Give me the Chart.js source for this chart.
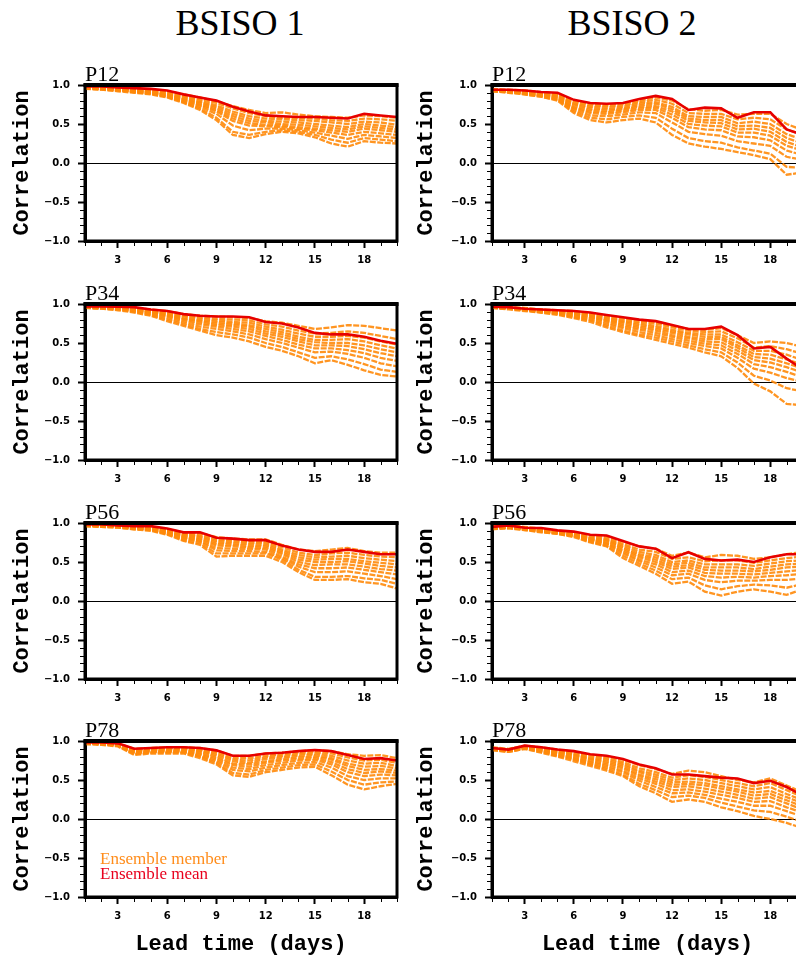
<!DOCTYPE html>
<html><head><meta charset="utf-8">
<script src="https://cdn.jsdelivr.net/npm/chart.js@4.4.0/dist/chart.umd.min.js"></script>
<style>
html,body{margin:0;padding:0;background:#fff;overflow:hidden;width:796px;height:960px;}
#wrap{position:relative;width:796px;height:960px;overflow:hidden;background:#fff;}
.title{position:absolute;top:5px;font-family:"Liberation Serif",serif;font-size:36px;line-height:36px;color:#000;width:300px;text-align:center;white-space:nowrap;}
canvas{position:absolute;}
.leg{position:absolute;font-family:"Liberation Serif",serif;font-size:17px;line-height:17px;white-space:nowrap;}
</style></head><body><div id="wrap">
<div class="title" style="left:90px">BSISO 1</div>
<div class="title" style="left:482px">BSISO 2</div>
</div>
<script>
// ---------------- DATA ----------------
const DAYS = [1,2,3,4,5,6,7,8,9,10,11,12,13,14,15,16,17,18,19,20];
const X_TICKS = [3,6,9,12,15,18];
const Y_TICKS = [-1,-0.5,0,0.5,1];
const COLUMN_TITLES = ["BSISO 1","BSISO 2"];
const PHASE_LABELS = ["P12","P34","P56","P78"];
const LEGEND_LABELS = ["Ensemble member","Ensemble mean"];

// BSISO 1, P12
const MEAN_B1_P12 = [0.98,0.98,0.97,0.96,0.95,0.93,0.88,0.84,0.80,0.72,0.66,0.61,0.60,0.59,0.59,0.58,0.57,0.63,0.61,0.59];
const MEMBERS_B1_P12 = [
 [0.98,0.97,0.96,0.95,0.94,0.92,0.88,0.84,0.79,0.73,0.68,0.64,0.65,0.62,0.60,0.59,0.58,0.61,0.60,0.58],
 [0.97,0.97,0.96,0.94,0.93,0.91,0.86,0.82,0.77,0.70,0.64,0.60,0.58,0.58,0.57,0.55,0.54,0.57,0.56,0.54],
 [0.97,0.96,0.95,0.94,0.92,0.89,0.85,0.80,0.74,0.66,0.60,0.57,0.56,0.55,0.54,0.52,0.50,0.53,0.52,0.49],
 [0.97,0.96,0.95,0.93,0.92,0.88,0.83,0.78,0.72,0.63,0.57,0.54,0.53,0.52,0.50,0.48,0.46,0.50,0.48,0.46],
 [0.97,0.96,0.94,0.93,0.91,0.88,0.82,0.77,0.70,0.60,0.54,0.52,0.50,0.49,0.47,0.45,0.43,0.47,0.45,0.43],
 [0.96,0.95,0.94,0.92,0.90,0.87,0.81,0.75,0.68,0.57,0.51,0.49,0.48,0.46,0.44,0.42,0.40,0.44,0.42,0.40],
 [0.96,0.95,0.94,0.92,0.90,0.86,0.80,0.74,0.66,0.54,0.48,0.47,0.46,0.44,0.42,0.39,0.36,0.40,0.38,0.36],
 [0.96,0.95,0.93,0.91,0.89,0.85,0.79,0.72,0.63,0.48,0.42,0.44,0.44,0.42,0.39,0.35,0.31,0.36,0.34,0.32],
 [0.96,0.94,0.93,0.91,0.89,0.85,0.78,0.70,0.58,0.40,0.36,0.40,0.42,0.40,0.36,0.30,0.26,0.32,0.30,0.28],
 [0.95,0.94,0.92,0.90,0.88,0.84,0.77,0.68,0.55,0.36,0.32,0.37,0.40,0.38,0.33,0.25,0.21,0.28,0.26,0.25]
];
// BSISO 2, P12
const MEAN_B2_P12 = [0.94,0.94,0.93,0.91,0.90,0.81,0.77,0.76,0.77,0.82,0.86,0.82,0.68,0.71,0.70,0.58,0.65,0.65,0.43,0.36];
const MEMBERS_B2_P12 = [
 [0.95,0.94,0.93,0.91,0.89,0.80,0.76,0.75,0.76,0.80,0.84,0.80,0.69,0.67,0.68,0.62,0.63,0.63,0.50,0.42],
 [0.94,0.93,0.92,0.90,0.88,0.78,0.74,0.73,0.74,0.78,0.81,0.76,0.64,0.63,0.63,0.56,0.58,0.56,0.43,0.36],
 [0.94,0.93,0.91,0.89,0.87,0.76,0.72,0.71,0.72,0.76,0.78,0.72,0.60,0.59,0.59,0.51,0.53,0.50,0.37,0.30],
 [0.94,0.92,0.91,0.89,0.86,0.75,0.70,0.69,0.70,0.74,0.76,0.69,0.57,0.55,0.55,0.47,0.48,0.45,0.32,0.25],
 [0.93,0.92,0.90,0.88,0.85,0.73,0.68,0.67,0.69,0.72,0.73,0.66,0.54,0.52,0.51,0.43,0.44,0.40,0.27,0.20],
 [0.93,0.92,0.90,0.87,0.84,0.71,0.66,0.65,0.67,0.70,0.71,0.62,0.50,0.48,0.47,0.39,0.39,0.35,0.22,0.16],
 [0.93,0.91,0.89,0.87,0.83,0.70,0.64,0.63,0.65,0.68,0.68,0.58,0.46,0.43,0.42,0.34,0.33,0.29,0.16,0.10],
 [0.93,0.91,0.89,0.86,0.82,0.68,0.61,0.60,0.62,0.65,0.64,0.52,0.40,0.37,0.35,0.28,0.25,0.22,0.08,0.04],
 [0.92,0.91,0.88,0.85,0.81,0.66,0.58,0.56,0.59,0.61,0.58,0.44,0.32,0.28,0.26,0.20,0.16,0.12,-0.05,-0.06],
 [0.92,0.90,0.88,0.85,0.80,0.64,0.55,0.52,0.55,0.57,0.52,0.36,0.25,0.21,0.18,0.14,0.10,0.05,-0.15,-0.12]
];
// BSISO 1, P34
const MEAN_B1_P34 = [0.97,0.97,0.965,0.96,0.93,0.91,0.87,0.85,0.84,0.84,0.83,0.77,0.75,0.70,0.63,0.61,0.61,0.58,0.53,0.49];
const MEMBERS_B1_P34 = [
 [0.97,0.97,0.96,0.95,0.93,0.91,0.87,0.85,0.84,0.83,0.82,0.78,0.76,0.72,0.68,0.70,0.73,0.72,0.69,0.66],
 [0.97,0.96,0.96,0.94,0.92,0.89,0.85,0.83,0.81,0.80,0.79,0.74,0.71,0.66,0.62,0.63,0.65,0.63,0.59,0.55],
 [0.97,0.96,0.95,0.94,0.91,0.88,0.84,0.81,0.79,0.77,0.76,0.71,0.67,0.62,0.58,0.58,0.59,0.57,0.52,0.48],
 [0.96,0.96,0.95,0.93,0.90,0.87,0.82,0.79,0.77,0.75,0.73,0.68,0.64,0.58,0.54,0.54,0.55,0.52,0.47,0.43],
 [0.96,0.96,0.95,0.93,0.90,0.86,0.81,0.78,0.75,0.73,0.71,0.65,0.61,0.55,0.51,0.50,0.50,0.47,0.42,0.38],
 [0.96,0.95,0.94,0.92,0.89,0.85,0.80,0.76,0.73,0.71,0.68,0.62,0.58,0.52,0.47,0.47,0.46,0.42,0.37,0.33],
 [0.96,0.95,0.94,0.92,0.88,0.84,0.78,0.74,0.71,0.68,0.65,0.59,0.54,0.48,0.43,0.43,0.41,0.37,0.31,0.27],
 [0.96,0.95,0.93,0.91,0.87,0.82,0.76,0.71,0.68,0.65,0.61,0.55,0.50,0.44,0.38,0.39,0.36,0.31,0.24,0.20],
 [0.95,0.94,0.93,0.90,0.86,0.80,0.74,0.68,0.64,0.61,0.57,0.50,0.45,0.38,0.31,0.33,0.29,0.23,0.16,0.13],
 [0.95,0.94,0.92,0.89,0.85,0.78,0.72,0.66,0.60,0.57,0.52,0.45,0.40,0.33,0.24,0.28,0.22,0.15,0.09,0.07]
];
// BSISO 2, P34
const MEAN_B2_P34 = [0.965,0.96,0.94,0.93,0.92,0.91,0.89,0.86,0.83,0.80,0.78,0.73,0.68,0.68,0.71,0.60,0.43,0.45,0.30,0.16];
const MEMBERS_B2_P34 = [
 [0.97,0.96,0.95,0.93,0.92,0.91,0.88,0.85,0.82,0.79,0.77,0.72,0.68,0.67,0.69,0.60,0.50,0.52,0.50,0.45],
 [0.96,0.96,0.94,0.93,0.91,0.90,0.87,0.83,0.80,0.77,0.75,0.70,0.66,0.64,0.65,0.56,0.44,0.46,0.42,0.36],
 [0.96,0.95,0.94,0.92,0.91,0.89,0.86,0.82,0.78,0.75,0.72,0.67,0.63,0.61,0.61,0.51,0.40,0.40,0.35,0.28],
 [0.96,0.95,0.94,0.92,0.90,0.88,0.85,0.80,0.77,0.73,0.70,0.65,0.61,0.58,0.58,0.47,0.36,0.35,0.29,0.22],
 [0.96,0.95,0.93,0.91,0.90,0.87,0.84,0.79,0.75,0.71,0.68,0.63,0.58,0.55,0.55,0.44,0.32,0.30,0.24,0.17],
 [0.96,0.95,0.93,0.91,0.89,0.86,0.83,0.78,0.73,0.69,0.66,0.60,0.56,0.52,0.51,0.40,0.28,0.25,0.19,0.12],
 [0.96,0.94,0.93,0.91,0.88,0.85,0.82,0.76,0.71,0.67,0.63,0.58,0.53,0.49,0.47,0.36,0.23,0.19,0.13,0.06],
 [0.95,0.94,0.92,0.90,0.88,0.84,0.80,0.74,0.69,0.64,0.60,0.55,0.50,0.46,0.43,0.31,0.17,0.12,0.05,0.00],
 [0.95,0.94,0.92,0.89,0.87,0.83,0.79,0.72,0.66,0.61,0.57,0.52,0.47,0.42,0.38,0.25,0.08,0.02,-0.08,-0.12],
 [0.95,0.93,0.91,0.89,0.86,0.82,0.77,0.70,0.64,0.59,0.54,0.49,0.44,0.38,0.33,0.18,-0.02,-0.12,-0.28,-0.30]
];
// BSISO 1, P56
const MEAN_B1_P56 = [0.98,0.98,0.97,0.96,0.96,0.93,0.88,0.88,0.81,0.80,0.78,0.78,0.71,0.66,0.63,0.63,0.66,0.63,0.60,0.60];
const MEMBERS_B1_P56 = [
 [0.98,0.98,0.97,0.96,0.95,0.92,0.88,0.87,0.82,0.80,0.79,0.79,0.72,0.66,0.64,0.66,0.68,0.64,0.62,0.62],
 [0.98,0.97,0.97,0.95,0.94,0.91,0.86,0.85,0.79,0.78,0.77,0.76,0.69,0.62,0.59,0.61,0.62,0.59,0.57,0.56],
 [0.97,0.97,0.96,0.95,0.94,0.90,0.85,0.83,0.77,0.76,0.75,0.74,0.66,0.59,0.56,0.57,0.58,0.55,0.53,0.51],
 [0.97,0.97,0.96,0.95,0.93,0.89,0.84,0.82,0.75,0.74,0.73,0.72,0.64,0.56,0.53,0.54,0.54,0.51,0.49,0.47],
 [0.97,0.96,0.96,0.94,0.93,0.89,0.83,0.80,0.73,0.72,0.71,0.70,0.62,0.53,0.50,0.50,0.51,0.48,0.45,0.43],
 [0.97,0.96,0.95,0.94,0.92,0.88,0.82,0.79,0.71,0.70,0.69,0.68,0.60,0.50,0.46,0.47,0.47,0.44,0.41,0.39],
 [0.97,0.96,0.95,0.93,0.92,0.87,0.81,0.77,0.68,0.67,0.67,0.66,0.57,0.47,0.42,0.42,0.43,0.40,0.37,0.34],
 [0.96,0.96,0.95,0.93,0.91,0.86,0.80,0.76,0.65,0.64,0.64,0.63,0.55,0.44,0.37,0.37,0.38,0.35,0.32,0.28],
 [0.96,0.95,0.94,0.92,0.91,0.86,0.78,0.74,0.61,0.61,0.61,0.61,0.53,0.40,0.31,0.31,0.32,0.29,0.27,0.22],
 [0.96,0.95,0.94,0.92,0.90,0.85,0.77,0.72,0.57,0.58,0.58,0.58,0.50,0.37,0.27,0.27,0.28,0.24,0.22,0.16]
];
// BSISO 2, P56
const MEAN_B2_P56 = [0.95,0.97,0.94,0.935,0.905,0.89,0.85,0.84,0.77,0.70,0.67,0.55,0.625,0.54,0.52,0.53,0.50,0.56,0.60,0.60];
const MEMBERS_B2_P56 = [
 [0.96,0.97,0.95,0.93,0.90,0.88,0.84,0.83,0.76,0.70,0.67,0.58,0.62,0.56,0.59,0.58,0.54,0.56,0.60,0.63],
 [0.95,0.96,0.94,0.92,0.89,0.87,0.82,0.81,0.73,0.66,0.63,0.54,0.56,0.51,0.52,0.52,0.49,0.52,0.55,0.57],
 [0.95,0.96,0.94,0.92,0.89,0.86,0.81,0.79,0.71,0.63,0.59,0.50,0.52,0.47,0.47,0.47,0.45,0.48,0.51,0.52],
 [0.94,0.95,0.93,0.91,0.88,0.85,0.80,0.78,0.69,0.60,0.56,0.47,0.49,0.43,0.43,0.43,0.41,0.44,0.47,0.48],
 [0.94,0.95,0.93,0.91,0.88,0.85,0.79,0.77,0.67,0.58,0.53,0.44,0.46,0.40,0.39,0.39,0.38,0.40,0.43,0.44],
 [0.94,0.95,0.92,0.90,0.87,0.84,0.79,0.75,0.65,0.56,0.50,0.41,0.43,0.36,0.35,0.35,0.34,0.36,0.38,0.40],
 [0.93,0.94,0.92,0.90,0.87,0.84,0.78,0.74,0.63,0.53,0.47,0.37,0.39,0.32,0.30,0.31,0.30,0.32,0.33,0.35],
 [0.93,0.94,0.92,0.89,0.87,0.83,0.77,0.73,0.61,0.51,0.43,0.33,0.35,0.27,0.24,0.26,0.26,0.27,0.27,0.29],
 [0.93,0.94,0.91,0.89,0.86,0.83,0.76,0.71,0.58,0.48,0.39,0.28,0.30,0.20,0.15,0.19,0.21,0.20,0.17,0.22],
 [0.92,0.93,0.91,0.88,0.86,0.82,0.75,0.70,0.55,0.45,0.35,0.22,0.25,0.12,0.07,0.12,0.15,0.12,0.08,0.15]
];
// BSISO 1, P78
const MEAN_B1_P78 = [0.98,0.98,0.97,0.90,0.91,0.92,0.92,0.91,0.88,0.81,0.81,0.84,0.85,0.87,0.885,0.87,0.82,0.77,0.78,0.75];
const MEMBERS_B1_P78 = [
 [0.98,0.98,0.97,0.90,0.91,0.92,0.92,0.91,0.88,0.81,0.81,0.84,0.85,0.87,0.88,0.87,0.83,0.81,0.82,0.78],
 [0.98,0.97,0.96,0.89,0.90,0.91,0.91,0.89,0.86,0.78,0.78,0.81,0.83,0.85,0.86,0.84,0.79,0.75,0.76,0.72],
 [0.98,0.97,0.96,0.88,0.89,0.90,0.90,0.88,0.84,0.76,0.75,0.79,0.81,0.83,0.84,0.81,0.75,0.71,0.72,0.68],
 [0.97,0.97,0.95,0.87,0.88,0.89,0.89,0.87,0.82,0.74,0.72,0.77,0.79,0.81,0.82,0.78,0.71,0.67,0.68,0.65],
 [0.97,0.97,0.95,0.86,0.88,0.88,0.88,0.86,0.80,0.71,0.70,0.74,0.77,0.79,0.80,0.76,0.68,0.63,0.64,0.62],
 [0.97,0.96,0.95,0.86,0.87,0.88,0.87,0.84,0.78,0.69,0.67,0.72,0.75,0.77,0.78,0.73,0.64,0.59,0.61,0.59],
 [0.97,0.96,0.94,0.85,0.86,0.87,0.86,0.83,0.76,0.66,0.64,0.69,0.72,0.75,0.76,0.70,0.60,0.55,0.57,0.56],
 [0.97,0.96,0.94,0.84,0.86,0.86,0.86,0.81,0.74,0.63,0.61,0.66,0.69,0.72,0.73,0.66,0.55,0.50,0.52,0.52],
 [0.96,0.96,0.94,0.83,0.85,0.85,0.85,0.80,0.72,0.59,0.57,0.63,0.66,0.69,0.70,0.61,0.50,0.44,0.47,0.48],
 [0.96,0.95,0.93,0.82,0.84,0.84,0.84,0.78,0.70,0.56,0.54,0.60,0.63,0.66,0.67,0.56,0.44,0.38,0.42,0.45]
];
// BSISO 2, P78
const MEAN_B2_P78 = [0.91,0.89,0.94,0.92,0.89,0.87,0.83,0.81,0.77,0.70,0.65,0.57,0.57,0.55,0.53,0.52,0.46,0.49,0.41,0.30];
const MEMBERS_B2_P78 = [
 [0.92,0.90,0.94,0.92,0.89,0.86,0.82,0.80,0.76,0.69,0.64,0.58,0.62,0.60,0.55,0.50,0.47,0.52,0.43,0.34],
 [0.91,0.89,0.93,0.91,0.88,0.84,0.80,0.78,0.73,0.65,0.60,0.53,0.56,0.54,0.50,0.46,0.42,0.46,0.37,0.28],
 [0.91,0.89,0.93,0.90,0.87,0.83,0.78,0.76,0.71,0.62,0.57,0.50,0.52,0.50,0.46,0.42,0.38,0.41,0.32,0.24],
 [0.90,0.88,0.92,0.90,0.86,0.82,0.77,0.74,0.69,0.60,0.54,0.47,0.48,0.46,0.42,0.38,0.34,0.36,0.28,0.20],
 [0.90,0.88,0.92,0.89,0.85,0.81,0.76,0.72,0.67,0.57,0.51,0.44,0.45,0.43,0.39,0.35,0.30,0.32,0.24,0.16],
 [0.90,0.88,0.92,0.88,0.84,0.79,0.74,0.70,0.65,0.55,0.48,0.41,0.42,0.39,0.35,0.31,0.26,0.28,0.20,0.12],
 [0.89,0.87,0.91,0.88,0.83,0.78,0.73,0.68,0.62,0.52,0.45,0.37,0.38,0.35,0.31,0.27,0.22,0.23,0.15,0.08],
 [0.89,0.87,0.91,0.87,0.82,0.77,0.71,0.66,0.60,0.49,0.41,0.33,0.34,0.31,0.26,0.22,0.17,0.17,0.10,0.03],
 [0.89,0.86,0.90,0.86,0.81,0.76,0.70,0.64,0.57,0.45,0.37,0.28,0.30,0.27,0.21,0.16,0.11,0.09,0.03,-0.04],
 [0.88,0.86,0.90,0.85,0.80,0.74,0.68,0.62,0.55,0.42,0.33,0.22,0.25,0.22,0.15,0.10,0.04,0.00,-0.05,-0.12]
];

const PANELS = [
  [ {mean:MEAN_B1_P12, members:MEMBERS_B1_P12}, {mean:MEAN_B2_P12, members:MEMBERS_B2_P12} ],
  [ {mean:MEAN_B1_P34, members:MEMBERS_B1_P34}, {mean:MEAN_B2_P34, members:MEMBERS_B2_P34} ],
  [ {mean:MEAN_B1_P56, members:MEMBERS_B1_P56}, {mean:MEAN_B2_P56, members:MEMBERS_B2_P56} ],
  [ {mean:MEAN_B1_P78, members:MEMBERS_B1_P78}, {mean:MEAN_B2_P78, members:MEMBERS_B2_P78} ]
];

// ---------------- LAYOUT / STYLE ----------------
const ROW_PLOT_TOPS = [85, 304, 523, 741];
const PLOT_H = 156;
const PAD_TOP = 25;
const COLS = [
  {left:0,   width:400, yw:85, titlePad:9},
  {left:400, width:406, yw:92, titlePad:13}
];
const MEMBER_COLOR = 'rgba(255,138,10,0.9)';
const MEAN_COLOR = '#e60000';
const TICK_FONT = {family:'DejaVu Sans', weight:'bold', size:10};
const AXIS_TITLE_FONT = {family:'Liberation Mono', weight:'bold', size:22};

const framePlugin = {
  id: 'frame',
  afterDatasetsDraw(chart) {
    const {ctx, chartArea:a, scales} = chart;
    ctx.save();
    ctx.strokeStyle = '#000';
    ctx.lineWidth = 1;
    ctx.beginPath();
    for (let d = Math.ceil(scales.x.min); d <= scales.x.max; d++) {
      if (d % 3 === 0) continue;
      const px = Math.round(scales.x.getPixelForValue(d)) + 0.5;
      ctx.moveTo(px, a.bottom + 1);
      ctx.lineTo(px, a.bottom + 5);
    }
    for (let k = -10; k <= 10; k++) {
      if (k % 5 === 0) continue;
      const py = Math.round(scales.y.getPixelForValue(k / 10)) + 0.5;
      ctx.moveTo(a.left - 1, py);
      ctx.lineTo(a.left - 5, py);
    }
    ctx.stroke();
    ctx.lineWidth = 3;
    ctx.strokeRect(a.left, a.top, a.right - a.left, a.bottom - a.top);
    ctx.lineWidth = 4;
    ctx.beginPath();
    ctx.moveTo(a.left - 1.5, a.top); ctx.lineTo(a.right + 1.5, a.top);
    ctx.stroke();
    const lbl = chart.options.plugins.frame.label;
    ctx.fillStyle = '#000';
    ctx.font = '22px "Liberation Serif"';
    ctx.textAlign = 'left';
    ctx.textBaseline = 'alphabetic';
    ctx.fillText(lbl, a.left, a.top - 4);
    ctx.restore();
  }
};

const wrap = document.getElementById('wrap');

function makePanel(row, col) {
  const c = COLS[col];
  const panel = PANELS[row][col];
  const isBottom = row === 3;
  const xh = isBottom ? 64 : 30;
  const canvas = document.createElement('canvas');
  const h = PAD_TOP + PLOT_H + xh;
  canvas.width = c.width; canvas.height = h;
  canvas.style.left = c.left + 'px';
  canvas.style.top = (ROW_PLOT_TOPS[row] - PAD_TOP) + 'px';
  canvas.style.width = c.width + 'px'; canvas.style.height = h + 'px';
  wrap.appendChild(canvas);

  const toXY = arr => DAYS.map((d, i) => ({x: d, y: arr[i]}));
  const datasets = [{
    data: toXY(panel.mean), borderColor: MEAN_COLOR, borderWidth: 2.6,
    pointRadius: 0, tension: 0, order: 0
  }];
  panel.members.forEach(m => datasets.push({
    data: toXY(m), borderColor: MEMBER_COLOR, borderWidth: 2.3, borderDash: [6, 1.5],
    pointRadius: 0, tension: 0, order: 1
  }));

  new Chart(canvas, {
    type: 'line',
    data: {datasets},
    options: {
      responsive: false, animation: false, events: [],
      devicePixelRatio: 1,
      layout: {padding: {top: PAD_TOP, right: 3, left: 0, bottom: 0}},
      plugins: {legend: {display: false}, tooltip: {enabled: false},
                frame: {label: PHASE_LABELS[row]}},
      scales: {
        x: {
          type: 'linear', min: 1, max: 20,
          afterBuildTicks: s => { s.ticks = X_TICKS.map(v => ({value: v})); },
          afterFit: s => { s.height = xh; },
          ticks: {font: TICK_FONT, color: '#000', padding: 6, maxRotation: 0, autoSkip: false,
                  callback: v => String(v)},
          grid: {drawOnChartArea: false, tickLength: 7, tickWidth: 2, tickColor: '#000', color: '#000'},
          border: {display: true, color: '#000', width: 3},
          title: {display: isBottom, text: 'Lead time (days)', font: AXIS_TITLE_FONT, color: '#000',
                  padding: {top: 0, bottom: 3}}
        },
        y: {
          min: -1, max: 1,
          afterBuildTicks: s => { s.ticks = Y_TICKS.map(v => ({value: v})); },
          afterFit: s => { s.width = c.yw; },
          ticks: {font: TICK_FONT, color: '#000', padding: 8,
                  callback: v => Number(v).toFixed(1).replace('-', '\u2212')},
          grid: {drawOnChartArea: true, lineWidth: 1, tickLength: 7, tickWidth: 2, tickColor: '#000',
                 color: ctx => (ctx.tick && ctx.tick.value === 0) ? '#000' : 'rgba(0,0,0,0)'},
          border: {display: true, color: '#000', width: 3},
          title: {display: true, text: 'Correlation', font: AXIS_TITLE_FONT, color: '#000',
                  padding: {top: c.titlePad, bottom: 0}}
        }
      }
    },
    plugins: [framePlugin]
  });
}

for (let r = 0; r < 4; r++) for (let c = 0; c < 2; c++) makePanel(r, c);

const leg1 = document.createElement('div');
leg1.className = 'leg'; leg1.style.left = '100px'; leg1.style.top = '850px';
leg1.style.color = '#ff8c1a'; leg1.textContent = LEGEND_LABELS[0];
const leg2 = document.createElement('div');
leg2.className = 'leg'; leg2.style.left = '100px'; leg2.style.top = '865px';
leg2.style.color = '#e8001c'; leg2.textContent = LEGEND_LABELS[1];
wrap.appendChild(leg1); wrap.appendChild(leg2);
</script>
</body></html>
